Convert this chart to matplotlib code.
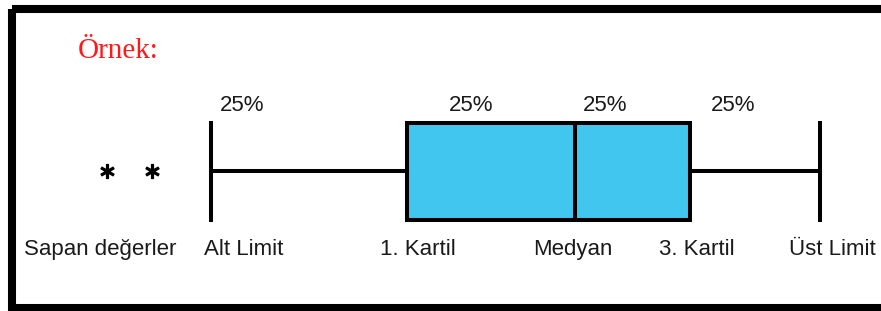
import matplotlib.pyplot as plt
from matplotlib.patches import Rectangle

# box plot statistics (horizontal pixel scale of the drawing)
low_limit = 211
q1 = 407
median = 575
q3 = 690
high_limit = 820
outliers = [107, 152]

# labels
title_text = "Örnek:"
pct_labels = ["25%", "25%", "25%", "25%"]
pct_x = [242, 471, 605, 733]
bottom_labels = ["Sapan değerler", "Alt Limit", "1. Kartil", "Medyan", "3. Kartil", "Üst Limit"]
bottom_x = [100, 244, 418, 573, 697, 832]

fig = plt.figure(figsize=(8.81, 3.11), dpi=100)
ax = fig.add_axes([0, 0, 1, 1])
ax.set_xlim(0, 881)
ax.set_ylim(311, 0)
ax.set_axis_off()

# outer frame (right side runs off the picture)
ax.add_patch(Rectangle((11.5, 9), 900, 298.5, fill=False, edgecolor='black',
                       linewidth=5.8, clip_on=False))

stats = [dict(whislo=low_limit, q1=q1, med=median, q3=q3, whishi=high_limit,
              fliers=outliers)]
lw = 2.9
ax.bxp(stats, positions=[171], widths=[97], capwidths=[97], orientation='horizontal',
       patch_artist=True, manage_ticks=False,
       boxprops=dict(facecolor='#41c6ef', edgecolor='black', linewidth=lw),
       medianprops=dict(color='black', linewidth=lw),
       whiskerprops=dict(color='black', linewidth=lw),
       capprops=dict(color='black', linewidth=lw),
       flierprops=dict(marker=r'$\ast$', markersize=10, markerfacecolor='black',
                       markeredgecolor='black', linestyle='none'))

ax.text(78, 58, title_text, color='#ff1a1a', fontsize=21, family='Liberation Serif',
        ha='left', va='baseline')

for x, t in zip(pct_x, pct_labels):
    ax.text(x, 111, t, fontsize=16, family='Liberation Sans', color='#1a1a1a',
            ha='center', va='baseline')

for x, t in zip(bottom_x, bottom_labels):
    ax.text(x, 255, t, fontsize=16, family='Liberation Sans', color='#1a1a1a',
            ha='center', va='baseline')

fig.savefig("out.png", dpi=100)
